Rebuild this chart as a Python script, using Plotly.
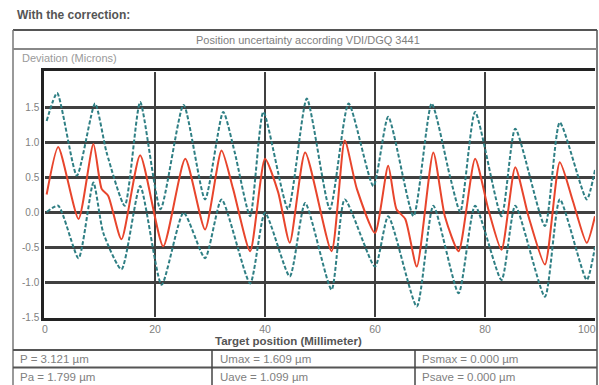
import plotly.graph_objects as go

# ---- data ----
x_red = [0.3, 2.4, 6.1, 8.8, 10.3, 11.5, 13.9, 17.3, 21.5, 25.5, 29.1, 32.1, 34.2, 37.3, 40, 42.4,
         44.5, 47.3, 52.1, 54.5, 56.7, 60, 62.4, 63.9, 65.5, 67.6, 70.6, 72.7, 75.2, 78.2, 80.6, 83,
         85.5, 87.9, 90.9, 93.6, 96, 98.5, 100]
y_red = [0.25, 0.93, -0.10, 0.97, 0.33, 0.23, -0.39, 0.81, -0.49, 0.76, -0.25, 0.88, 0.33, -0.56, 0.76, 0.28,
         -0.44, 0.85, -0.56, 1.02, 0.33, -0.30, 0.66, 0.04, -0.10, -0.78, 0.85, -0.06, -0.56, 0.76, 0.04, -0.54,
         0.64, -0.06, -0.75, 0.71, 0.15, -0.44, -0.06]

x_up = [0.3, 2.2, 5.8, 9.1, 11.2, 14.5, 17.3, 21, 25.2, 29.1, 32.4, 34.5, 37.3, 39.7, 44.2, 47.6, 51.8,
        55.2, 59.7, 62.4, 67, 70.3, 73.6, 75.5, 78.2, 83, 85.5, 90.9, 93.6, 98.5, 100]
y_up = [1.30, 1.70, 0.52, 1.55, 0.85, 0.09, 1.57, 0.04, 1.53, 0.18, 1.43, 0.85, -0.06, 1.43, 0.04, 1.62, 0.04,
        1.55, 0.37, 1.36, -0.06, 1.55, 0.52, 0.00, 1.43, -0.06, 1.19, -0.20, 1.28, 0.18, 0.60]

x_lo = [0.3, 2.4, 6.1, 8.8, 10.6, 13.9, 17.3, 21.2, 25.2, 29.1, 32.1, 37.3, 40, 44.5, 47.3, 52.1, 54.5,
        60, 62.4, 67.6, 70.6, 75.2, 78.2, 83, 85.5, 90.9, 93.6, 98.5, 100]
y_lo = [0.00, 0.09, -0.66, 0.42, -0.30, -0.82, 0.37, -1.04, -0.01, -0.66, 0.18, -1.02, -0.01, -0.92, 0.13, -1.11, 0.18,
        -0.78, -0.06, -1.35, 0.09, -1.16, 0.09, -0.97, 0.09, -1.21, 0.18, -0.97, -0.50]

y_ticks = [-1.5, -1.0, -0.5, 0.0, 0.5, 1.0, 1.5]
y_tick_labels = ["-1.5", "-1.0", "-0.5", "0.0", "0.5", "1.0", "1.5"]
x_ticks = [0, 20, 40, 60, 80, 100]

title_text = "With the correction:"
header_text = "Position uncertainty according VDI/DGQ 3441"
y_title = "Deviation (Microns)"
x_title = "Target position (Millimeter)"
table = [["P = 3.121 µm", "Umax = 1.609 µm", "Psmax = 0.000 µm"],
         ["Pa = 1.799 µm", "Uave = 1.099 µm", "Psave = 0.000 µm"]]

# ---- layout geometry (pixels) ----
W, H = 599, 385
L, R, T, B = 45, 4, 72, 68
PW, PH = W - L - R, H - T - B


def fx(px):
    return (px - L) / PW


def fy(py):
    return (H - B - py) / PH


TEAL = "#2f7f84"
RED = "#e8452c"
GRID = "#404040"
TXT = "#808080"

fig = go.Figure()
fig.add_trace(go.Scatter(x=x_up, y=y_up, mode="lines",
                         line=dict(color=TEAL, width=2, dash="4px,2px", shape="spline", smoothing=0.6),
                         showlegend=False, hoverinfo="skip"))
fig.add_trace(go.Scatter(x=x_lo, y=y_lo, mode="lines",
                         line=dict(color=TEAL, width=2, dash="4px,2px", shape="spline", smoothing=0.6),
                         showlegend=False, hoverinfo="skip"))
fig.add_trace(go.Scatter(x=x_red, y=y_red, mode="lines",
                         line=dict(color=RED, width=2, shape="spline", smoothing=0.6),
                         showlegend=False, hoverinfo="skip"))

shapes = []
# outer frame
shapes.append(dict(type="line", xref="paper", yref="paper", x0=fx(13), x1=fx(597), y0=fy(30), y1=fy(30),
                   line=dict(color="#555", width=2)))
shapes.append(dict(type="line", xref="paper", yref="paper", x0=fx(13), x1=fx(13), y0=fy(30), y1=fy(386),
                   line=dict(color="#777", width=1.5)))
shapes.append(dict(type="line", xref="paper", yref="paper", x0=fx(597), x1=fx(597), y0=fy(30), y1=fy(386),
                   line=dict(color="#555", width=1.5)))
# header lower line
shapes.append(dict(type="line", xref="paper", yref="paper", x0=fx(13), x1=fx(597), y0=fy(49), y1=fy(49),
                   line=dict(color="#888", width=2)))
# table lines
for py in (350, 367.5):
    shapes.append(dict(type="line", xref="paper", yref="paper", x0=fx(13), x1=fx(597), y0=fy(py), y1=fy(py),
                       line=dict(color="#555", width=2)))
for px in (212, 415):
    shapes.append(dict(type="line", xref="paper", yref="paper", x0=fx(px), x1=fx(px), y0=fy(350), y1=fy(386),
                       line=dict(color="#444", width=1.5)))
fig.update_layout(shapes=shapes)

ann = []
ann.append(dict(text="<b>" + title_text + "</b>", x=fx(15), y=fy(15), xref="paper", yref="paper",
                xanchor="left", yanchor="middle", showarrow=False, font=dict(size=12, color="#555")))
ann.append(dict(text=header_text, x=fx(308), y=fy(40), xref="paper", yref="paper",
                xanchor="center", yanchor="middle", showarrow=False, font=dict(size=11, color=TXT)))
ann.append(dict(text=y_title, x=fx(20), y=fy(58), xref="paper", yref="paper",
                xanchor="left", yanchor="middle", showarrow=False, font=dict(size=11, color="#9a9a9a")))
ann.append(dict(text="<b>" + x_title + "</b>", x=fx(288), y=fy(341), xref="paper", yref="paper",
                xanchor="center", yanchor="middle", showarrow=False, font=dict(size=11.5, color="#555")))
ann.append(dict(text=str(x_ticks[-1]), x=fx(598), y=fy(329), xref="paper", yref="paper",
                xanchor="right", yanchor="middle", showarrow=False, font=dict(size=10.5, color=TXT)))
col_x = [18, 218, 420]
row_y = [359, 376.5]
for r, row in enumerate(table):
    for c, cell in enumerate(row):
        ann.append(dict(text=cell, x=fx(col_x[c]), y=fy(row_y[r]), xref="paper", yref="paper",
                        xanchor="left", yanchor="middle", showarrow=False, font=dict(size=11.5, color=TXT)))
fig.update_layout(annotations=ann)

fig.update_xaxes(range=[0, 100], tickvals=x_ticks[:-1], ticktext=[str(v) for v in x_ticks[:-1]],
                 showgrid=True, gridcolor=GRID, gridwidth=2,
                 showline=True, linecolor="#222", linewidth=2.5, mirror=True,
                 zeroline=False, ticks="", tickfont=dict(size=10.5, color=TXT))
fig.update_yaxes(range=[-1.5, 2.0], tickvals=y_ticks, ticktext=y_tick_labels,
                 showgrid=True, gridcolor=GRID, gridwidth=2.5,
                 showline=True, linecolor="#222", linewidth=2.5,
                 zeroline=False, ticks="", tickfont=dict(size=10, color=TXT))

fig.update_layout(width=W, height=H, margin=dict(l=L, r=R, t=T, b=B, pad=1),
                  plot_bgcolor="white", paper_bgcolor="white",
                  font=dict(family="Arial, Liberation Sans, sans-serif"))

fig.write_html("out.html", config={"displayModeBar": False},
               post_script="document.body.style.margin='0px';document.body.style.padding='0px';")
